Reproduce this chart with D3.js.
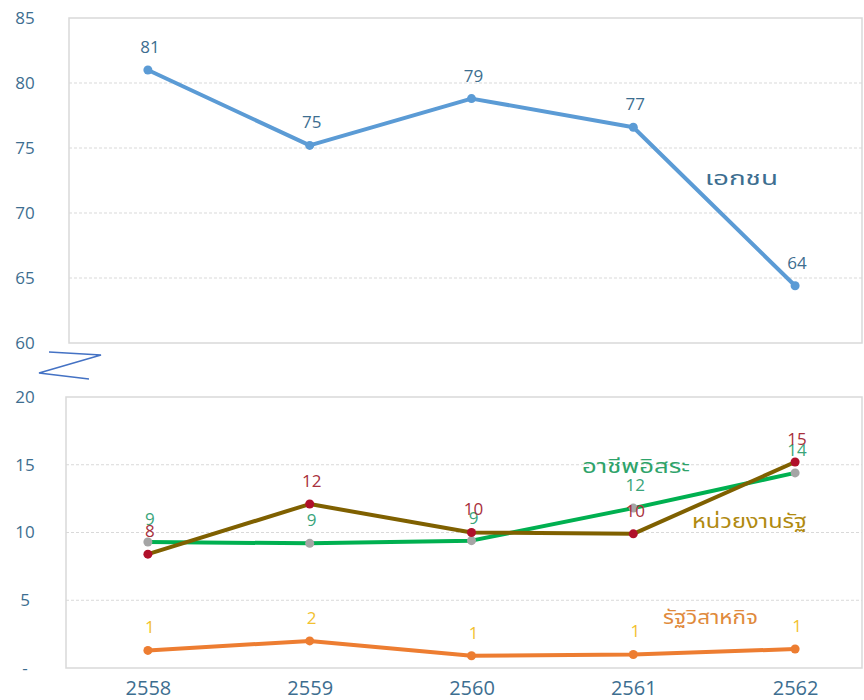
<!DOCTYPE html>
<html>
<head>
<meta charset="utf-8">
<script src="https://cdn.jsdelivr.net/npm/d3@7/dist/d3.min.js"></script>
<style>
  body { margin: 0; background: #fff; }
  .tick text { font: 17px "Open Sans", "Noto Sans", sans-serif; fill: #3d6e90; }
  .lbl { font: 17px "Open Sans", "Noto Sans", sans-serif; text-anchor: middle; }
  .name { font: 19px "Noto Sans Thai", "Noto Sans", "DejaVu Sans", sans-serif; }
</style>
</head>
<body>
<svg class="chart"></svg>
<script>
// data
var years = ["2558", "2559", "2560", "2561", "2562"];
var privateVals = [81.0, 75.2, 78.8, 76.6, 64.4];      // เอกชน
var freelanceVals = [9.3, 9.2, 9.4, 11.8, 14.4];       // อาชีพอิสระ
var governmentVals = [8.4, 12.1, 10.0, 9.9, 15.2];     // หน่วยงานรัฐ
var stateEntVals = [1.3, 2.0, 0.9, 1.0, 1.4];          // รัฐวิสาหกิจ
var topTicks = [60, 65, 70, 75, 80, 85];
var botTicks = [0, 5, 10, 15, 20];

var width = 864, height = 700;
var svg = d3.select(".chart").attr("width", width).attr("height", height);

var x = d3.scalePoint().domain(years).range([67, 876]).padding(0.5);
var yTop = d3.scaleLinear().domain([60, 85]).range([343, 18]);
var yBot = d3.scaleLinear().domain([0, 20]).range([668, 397]);

// panel frames + grid
function panel(y, ticks, left) {
  var r = y.range();
  svg.append("g").selectAll("line")
    .data(ticks.slice(1, -1))
    .enter().append("line")
    .attr("x1", left).attr("x2", 862)
    .attr("y1", function(d) { return y(d); })
    .attr("y2", function(d) { return y(d); })
    .attr("stroke", "#d9d9d9")
    .attr("stroke-dasharray", "3,2");
  svg.append("rect")
    .attr("x", left).attr("y", r[1])
    .attr("width", 862 - left).attr("height", r[0] - r[1])
    .attr("fill", "none").attr("stroke", "#d9d9d9").attr("stroke-width", 1.5);
}
panel(yTop, topTicks, 69);
panel(yBot, botTicks, 66);

function yAxis(y, ticks) {
  var g = svg.append("g")
    .attr("transform", "translate(25,0)")
    .call(d3.axisLeft(y).tickValues(ticks).tickSize(0).tickPadding(0)
      .tickFormat(function(d) { return d === 0 ? "-" : d; }));
  g.select(".domain").remove();
  g.selectAll("text").attr("text-anchor", "middle");
}
yAxis(yTop, topTicks);
yAxis(yBot, botTicks);

var xg = svg.append("g")
  .attr("transform", "translate(0,677)")
  .call(d3.axisBottom(x).tickSize(0).tickPadding(0));
xg.select(".domain").remove();
xg.selectAll("text").attr("dy", "0.9em").style("font-size", "20px");

// axis break mark
svg.append("path")
  .attr("d", d3.line()([[49, 352], [101, 355], [39, 373], [89, 379]]))
  .attr("fill", "none").attr("stroke", "#4472c4").attr("stroke-width", 1.5);

// series
function series(vals, y, lineColor, markColor, labelColor) {
  var pts = vals.map(function(v, i) { return [x(years[i]), y(v)]; });
  svg.append("path")
    .attr("d", d3.line()(pts))
    .attr("fill", "none").attr("stroke", lineColor)
    .attr("stroke-width", 4).attr("stroke-linejoin", "round");
  svg.append("g").selectAll("circle")
    .data(pts).enter().append("circle")
    .attr("cx", function(d) { return d[0]; })
    .attr("cy", function(d) { return d[1]; })
    .attr("r", 4.5).attr("fill", markColor);
  return function() {
    svg.append("g").selectAll("text")
      .data(vals).enter().append("text")
      .attr("class", "lbl")
      .attr("x", function(d, i) { return x(years[i]) + 2; })
      .attr("y", function(d) { return y(d) - 23; })
      .attr("dy", "0.35em")
      .attr("fill", labelColor)
      .text(function(d) { return Math.round(d); });
  };
}

var labels = [];
labels.push(series(privateVals, yTop, "#5b9bd5", "#5b9bd5", "#3d6e90"));
labels.push(series(stateEntVals, yBot, "#ed7d31", "#ed7d31", "#f2c12e"));
labels.push(series(freelanceVals, yBot, "#00b050", "#a5a5a5", "#3aa57a"));
labels.push(series(governmentVals, yBot, "#7f6000", "#b0102a", "#a8303c"));
labels.forEach(function(f) { f(); });

// series names
var names = [
  { t: "เอกชน", x: 705, y: 185, w: 73, c: "#3d6e90" },
  { t: "อาชีพอิสระ", x: 582, y: 473, w: 108, c: "#2ea36a" },
  { t: "หน่วยงานรัฐ", x: 692, y: 528, w: 115, c: "#b08a10" },
  { t: "รัฐวิสาหกิจ", x: 663, y: 624, w: 95, c: "#e08a3c" }
];
svg.append("g").selectAll("text")
  .data(names).enter().append("text")
  .attr("class", "name")
  .attr("x", function(d) { return d.x; })
  .attr("y", function(d) { return d.y; })
  .attr("textLength", function(d) { return d.w; })
  .attr("lengthAdjust", "spacingAndGlyphs")
  .attr("fill", function(d) { return d.c; })
  .text(function(d) { return d.t; });
</script>
</body>
</html>
